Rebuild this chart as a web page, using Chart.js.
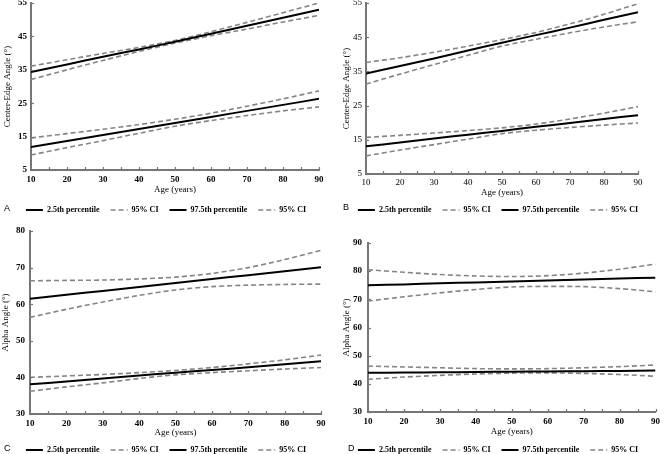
<!DOCTYPE html>
<html>
<head>
<meta charset="utf-8">
<script src="https://cdn.jsdelivr.net/npm/chart.js@4.4.0/dist/chart.umd.min.js"></script>
<style>
body { margin: 0; background: #fff; width: 664px; height: 454px; overflow: hidden; position: relative; }
canvas { position: absolute; }
.lbl { position: absolute; font: 9px "Liberation Sans", Arial, sans-serif; line-height: 10px; color: #000; }
</style>
</head>
<body>
<canvas id="chartA" width="332" height="224" style="left:0;top:0"></canvas>
<canvas id="chartB" width="332" height="224" style="left:332px;top:0"></canvas>
<canvas id="chartC" width="332" height="237" style="left:0;top:227px"></canvas>
<canvas id="chartD" width="332" height="237" style="left:332px;top:227px"></canvas>
<div class="lbl" style="left:4px;top:203px">A</div>
<div class="lbl" style="left:343px;top:202px">B</div>
<div class="lbl" style="left:4px;top:443px">C</div>
<div class="lbl" style="left:348px;top:443px">D</div>
<script>
// ages at which the curves were read
var ages = [10, 20, 30, 40, 50, 60, 70, 80, 90];

// A - center-edge angle, first group
var aLow     = [11.9, 13.7, 15.5, 17.3, 19.1, 20.9, 22.7, 24.5, 26.3];
var aLowCiHi = [14.6, 15.9, 17.2, 18.6, 20.2, 22.0, 24.1, 26.3, 28.7];
var aLowCiLo = [9.5, 11.7, 13.8, 16.0, 18.1, 19.8, 21.3, 22.7, 23.9];
var aHigh     = [34.3, 36.6, 38.9, 41.1, 43.4, 45.8, 48.2, 50.6, 53.0];
var aHighCiHi = [36.1, 38.0, 39.9, 41.7, 43.8, 46.4, 49.2, 52.1, 55.0];
var aHighCiLo = [32.1, 35.0, 37.8, 40.5, 43.0, 45.2, 47.2, 49.3, 51.3];

// B - center-edge angle, second group
var bLow     = [13.1, 14.2, 15.4, 16.5, 17.6, 18.8, 19.9, 21.1, 22.2];
var bLowCiHi = [15.7, 16.3, 17.0, 17.7, 18.5, 19.6, 21.1, 22.8, 24.7];
var bLowCiLo = [10.3, 12.0, 13.6, 15.2, 16.8, 17.8, 18.6, 19.3, 19.9];
var bHigh     = [34.4, 36.6, 38.8, 41.1, 43.4, 45.6, 47.8, 50.1, 52.3];
var bHighCiHi = [37.6, 39.0, 40.6, 42.4, 44.3, 46.4, 48.9, 51.7, 54.8];
var bHighCiLo = [31.3, 34.2, 37.0, 39.7, 42.4, 44.4, 46.3, 48.0, 49.5];

// C - alpha angle, first group
var cLow     = [38.1, 38.9, 39.7, 40.5, 41.3, 42.0, 42.8, 43.6, 44.4];
var cLowCiHi = [40.0, 40.4, 40.8, 41.3, 41.9, 42.7, 43.7, 44.8, 46.1];
var cLowCiLo = [36.2, 37.4, 38.5, 39.7, 40.7, 41.3, 41.8, 42.3, 42.7];
var cHigh     = [61.5, 62.6, 63.6, 64.7, 65.8, 66.9, 67.9, 69.0, 70.1];
var cHighCiHi = [66.4, 66.5, 66.6, 66.9, 67.4, 68.4, 70.0, 72.2, 74.7];
var cHighCiLo = [56.4, 58.6, 60.6, 62.4, 63.9, 64.8, 65.2, 65.4, 65.5];

// D - alpha angle, second group
var dLow     = [43.9, 44.0, 44.1, 44.2, 44.3, 44.4, 44.5, 44.6, 44.7];
var dLowCiHi = [46.3, 46.0, 45.7, 45.4, 45.3, 45.4, 45.7, 46.1, 46.7];
var dLowCiLo = [41.6, 42.4, 43.0, 43.5, 43.8, 43.9, 43.7, 43.3, 42.7];
var dHigh     = [75.0, 75.3, 75.7, 76.0, 76.3, 76.7, 77.0, 77.4, 77.7];
var dHighCiHi = [80.5, 79.6, 78.8, 78.3, 78.1, 78.4, 79.3, 80.7, 82.5];
var dHighCiLo = [69.4, 70.9, 72.3, 73.5, 74.4, 74.6, 74.5, 73.8, 72.7];

var legendNames = ['2.5th percentile', '95% CI', '', '97.5th percentile', '95% CI', ''];

var SERIF = '"Liberation Serif", "Times New Roman", serif';
var AXIS_GREY = '#767676';

function pts(values) {
    return values.map(function(v, i) { return {x: ages[i], y: v}; });
}

function solid(label, values) {
    return {label: label, data: pts(values), borderColor: '#000', backgroundColor: '#000',
        borderWidth: 2, pointRadius: 0, tension: 0.3};
}
function dashed(label, values) {
    return {label: label, data: pts(values), borderColor: '#858585', backgroundColor: '#858585',
        borderWidth: 1.6, borderDash: [5, 3], pointRadius: 0, tension: 0.3};
}

// small tick marks drawn inside the plot, as in the original figure
var innerTicks = {
    id: 'innerTicks',
    afterDatasetsDraw: function(chart) {
        var ctx = chart.ctx, x = chart.scales.x, y = chart.scales.y, area = chart.chartArea;
        ctx.save();
        ctx.strokeStyle = AXIS_GREY;
        ctx.lineWidth = 1.2;
        for (var v = x.min + 5; v < x.max + 0.1; v += 5) {
            var px = Math.round(x.getPixelForValue(v)) + 0.5;
            ctx.beginPath(); ctx.moveTo(px, area.bottom); ctx.lineTo(px, area.bottom - 3); ctx.stroke();
        }
        y.ticks.forEach(function(t) {
            var py = Math.round(y.getPixelForValue(t.value)) + 0.5;
            ctx.beginPath(); ctx.moveTo(area.left, py); ctx.lineTo(area.left + 3, py); ctx.stroke();
        });
        ctx.restore();
    }
};

// legend items with the dash of their dataset
function legendItems(chart) {
    var items = Chart.defaults.plugins.legend.labels.generateLabels(chart);
    items.forEach(function(it) {
        var d = chart.data.datasets[it.datasetIndex];
        it.lineDash = d.borderDash || [];
        it.lineWidth = d.borderWidth;
        it.strokeStyle = d.borderColor;
    });
    return items;
}

function makeChart(id, sets, p) {
    var ds = [
        solid(legendNames[0], sets[0]), dashed(legendNames[1], sets[1]), dashed(legendNames[2], sets[2]),
        solid(legendNames[3], sets[3]), dashed(legendNames[4], sets[4]), dashed(legendNames[5], sets[5])
    ];
    var tickWeight = p.lightTicks ? 'normal' : 'bold';
    return new Chart(document.getElementById(id), {
        type: 'line',
        data: {datasets: ds},
        plugins: [innerTicks],
        options: {
            responsive: false,
            animation: false,
            events: [],
            layout: {padding: {left: 0, right: 0, top: p.top, bottom: 0}},
            plugins: {
                tooltip: {enabled: false},
                legend: {
                    position: 'bottom',
                    labels: {
                        usePointStyle: true,
                        pointStyle: 'line',
                        pointStyleWidth: 17,
                        boxHeight: 8,
                        padding: 11,
                        color: '#000',
                        font: {family: SERIF, size: 8, weight: 'bold'},
                        generateLabels: legendItems,
                        filter: function(item) { return item.text !== ''; }
                    }
                }
            },
            scales: {
                x: {
                    type: 'linear', min: 10, max: 90,
                    border: {color: AXIS_GREY, width: 2},
                    grid: {display: false, drawTicks: false},
                    ticks: {stepSize: 10, padding: p.xPad, color: '#000', maxRotation: 0,
                        font: {family: SERIF, size: 9, weight: tickWeight}},
                    title: {display: true, text: 'Age (years)', color: '#000',
                        font: {family: SERIF, size: 9}, padding: {top: 0, bottom: p.xTitlePad}},
                    afterFit: function(s) { s.height = p.xHeight; }
                },
                y: {
                    min: p.yMin, max: p.yMax,
                    border: {color: AXIS_GREY, width: 2},
                    grid: {display: false, drawTicks: false},
                    ticks: {stepSize: 10, padding: p.yPad, color: '#000',
                        font: {family: SERIF, size: 9, weight: tickWeight}},
                    title: {display: true, text: p.yTitle, color: '#000',
                        font: {family: SERIF, size: 9}, padding: {top: p.yTitlePad, bottom: 0}},
                    afterFit: function(s) { s.width = p.yWidth; s.paddingTop = 0; s.paddingBottom = 0; }
                },
                // empty axis that only reserves the white margin on the right
                yr: {
                    type: 'linear', position: 'right',
                    grid: {display: false, drawTicks: false},
                    border: {display: false},
                    ticks: {display: false},
                    afterFit: function(s) { s.width = p.right; }
                }
            }
        }
    });
}

makeChart('chartA', [aLow, aLowCiHi, aLowCiLo, aHigh, aHighCiHi, aHighCiLo], {
    yMin: 5, yMax: 55, yTitle: 'Center-Edge Angle (\u00b0)',
    right: 13, top: 3, yWidth: 31, yPad: 4, yTitlePad: 2,
    xHeight: 25, xPad: 4, xTitlePad: -0.4
});
makeChart('chartB', [bLow, bLowCiHi, bLowCiLo, bHigh, bHighCiHi, bHighCiLo], {
    yMin: 5, yMax: 55, yTitle: 'Center-Edge Angle (\u00b0)', lightTicks: true,
    right: 26, top: 3, yWidth: 34, yPad: 4, yTitlePad: 9,
    xHeight: 21, xPad: 3, xTitlePad: -3.4
});
makeChart('chartC', [cLow, cLowCiHi, cLowCiLo, cHigh, cHighCiHi, cHighCiLo], {
    yMin: 30, yMax: 80, yTitle: 'Alpha Angle (\u00b0)',
    right: 11, top: 4, yWidth: 30, yPad: 5, yTitlePad: 0,
    xHeight: 21, xPad: 4, xTitlePad: -3.4
});
makeChart('chartD', [dLow, dLowCiHi, dLowCiLo, dHigh, dHighCiHi, dHighCiLo], {
    yMin: 30, yMax: 90, yTitle: 'Alpha Angle (\u00b0)',
    right: 5, top: 16, yWidth: 36, yPad: 6, yTitlePad: 9,
    xHeight: 23, xPad: 4, xTitlePad: -2.4
});
</script>
</body>
</html>
